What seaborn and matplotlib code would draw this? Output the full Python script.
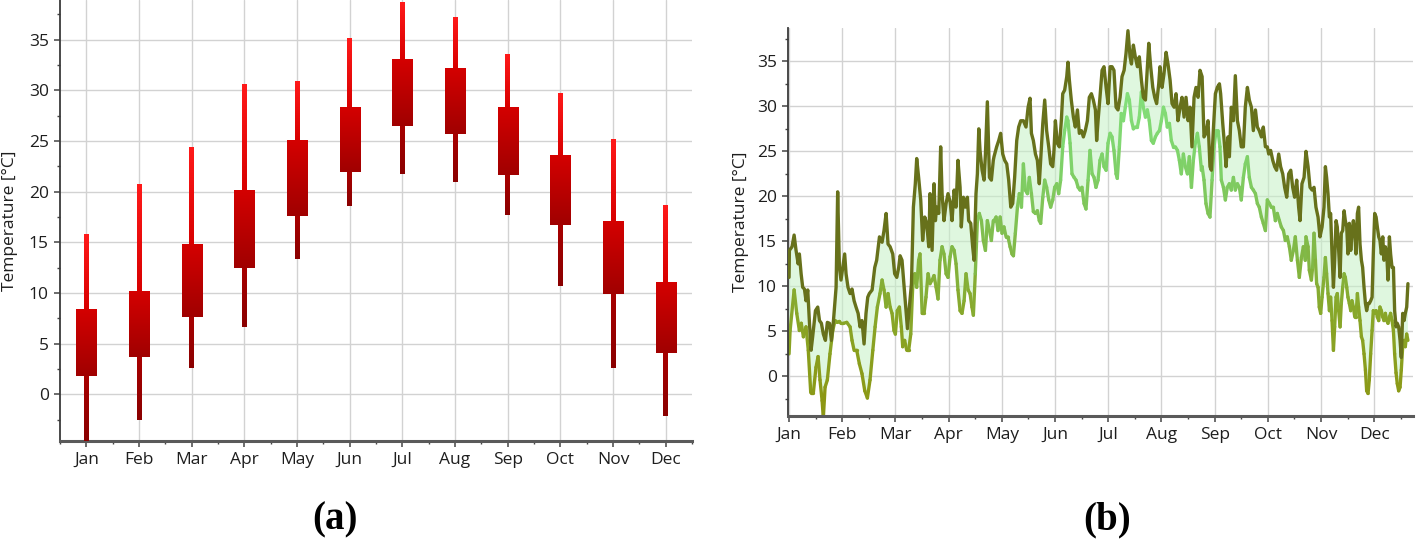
import numpy as np
import pandas as pd
import matplotlib
matplotlib.use("Agg")
import matplotlib.pyplot as plt
import seaborn as sns
from matplotlib.collections import LineCollection
from matplotlib.colors import LinearSegmentedColormap, Normalize
from matplotlib.ticker import MultipleLocator, FixedLocator

# ---------------- data ----------------
months = ["Jan", "Feb", "Mar", "Apr", "May", "Jun",
          "Jul", "Aug", "Sep", "Oct", "Nov", "Dec"]

# panel (a): monthly candles
month_min = [-4.6, -2.5, 2.6, 6.6, 13.4, 18.6, 21.7, 20.9, 17.7, 10.7, 2.6, -2.1]
box_low = [1.8, 3.7, 7.6, 12.5, 17.6, 21.9, 26.5, 25.7, 21.6, 16.7, 9.9, 4.1]
box_high = [8.4, 10.2, 14.8, 20.1, 25.0, 28.3, 33.1, 32.2, 28.3, 23.6, 17.1, 11.1]
month_max = [15.7, 20.7, 24.3, 30.6, 30.9, 35.1, 38.7, 37.2, 33.5, 29.7, 25.1, 18.6]

# panel (b): daily maximum temperature (day of year, degC)
max_day = [0, 0.2, 1.7, 2.9, 4.0, 5.2, 5.9, 6.9, 7.8, 8.8,
           9.7, 10.7, 11.6, 12.6, 13.5, 15.1, 16.4, 17.4, 18.5, 19.6,
           20.8, 21.9, 23.1, 24.2, 25.4, 26.9, 27.8, 28.8, 29.7, 30.7,
           31.8, 32.6, 33.7, 34.9, 36.0, 37.2, 38.3, 39.5, 40.6, 41.7,
           42.9, 44.0, 45.0, 45.9, 47.5, 49.0, 50.1, 51.7, 53.2, 54.3,
           55.5, 56.6,
           57.8, 59.3, 60.4, 61.6, 62.7, 63.5, 64.6, 65.8, 66.9, 67.7,
           68.8, 70.0, 71.1, 72.2, 73.0, 74.1, 75.3, 76.4, 77.6, 78.7,
           79.9, 80.6, 81.8, 82.9, 83.7, 84.4, 85.6, 86.7, 87.5, 88.6,
           89.8, 90.9, 92.1, 93.2, 94.4, 95.5, 96.6, 97.8, 98.5, 99.7,
           100.8, 102.0, 102.7, 103.9, 105.0, 105.8, 106.9, 107.7, 108.5, 109.2,
           110.4, 111.5, 112.3, 113.4, 114.6, 115.7, 116.8,
           117.2, 118.7, 119.9, 121.0, 122.2, 123.3, 124.5, 125.6, 126.8, 127.9,
           129.0, 130.2, 131.3, 132.5, 134.0, 135.5, 136.7, 137.8, 138.6, 139.7,
           140.9, 142.0, 143.1, 143.9, 145.1, 146.2, 147.3, 148.5, 149.6, 150.8,
           151.5, 152.3, 153.4, 154.6, 155.7, 156.5, 157.6, 158.8, 159.5, 160.3,
           161.4, 162.6, 163.7, 164.9, 166.0, 167.2, 168.3, 169.4, 170.6, 171.7,
           172.9, 174.0, 175.2, 175.9,
           176.7, 177.8, 179.0, 180.1, 181.3, 182.4, 183.6, 184.7, 185.8, 187.0,
           188.1, 189.3, 190.4, 191.6, 192.7, 193.8, 195.0, 195.8, 196.9, 198.0,
           199.2, 200.3, 201.5, 202.6, 203.8, 204.9, 205.7, 206.8, 208.0, 209.1,
           210.2, 211.4, 212.1, 213.3, 214.4, 215.6, 216.7, 217.9, 219.0, 220.2,
           221.3, 222.4, 223.6, 224.7, 225.9, 227.0, 228.2, 229.3, 230.4, 231.6,
           232.7, 233.9, 235.0,
           236.2, 237.3, 238.4, 239.6, 240.7, 241.5, 242.6, 243.8, 244.9, 246.1,
           246.8, 248.0, 249.1, 249.9, 251.0, 251.8, 252.9, 254.1, 255.2, 256.4,
           257.5, 258.6, 259.8, 260.9, 262.1, 263.2, 264.4, 265.5, 266.7, 267.8,
           268.9, 270.1, 271.2, 272.4, 273.5, 274.3, 275.4, 276.6, 277.7, 278.8,
           280.0, 281.1, 282.3, 283.4, 284.6, 285.7, 286.9, 288.0, 289.1, 290.3,
           291.4, 292.2, 293.3, 294.5, 295.6,
           296.8, 297.9, 299.1, 300.2, 301.3, 302.5, 303.6, 304.8, 305.9, 306.7,
           307.4, 308.2, 309.0, 309.7, 310.5, 311.3, 312.0, 312.8, 313.5, 314.3,
           315.1, 315.8, 316.6, 317.4, 318.1, 318.9, 319.6, 320.4, 321.2, 321.9,
           322.7, 323.5, 324.2, 325.0, 325.7, 326.5, 327.3, 328.0, 328.8, 329.6,
           330.3, 331.1, 331.8, 332.6, 333.4, 334.1, 334.9, 335.7, 336.4, 337.2,
           337.9, 338.7, 339.5, 340.2, 341.0, 341.8, 342.5, 343.3, 344.0, 344.8,
           345.6, 346.3, 347.1, 347.8, 348.6, 349.4, 350.1, 350.9, 351.7, 352.4,
           353.2, 353.9]
t_max = [11.0, 14.0, 14.4, 15.7, 14.0, 12.5, 13.6, 11.4, 9.9, 9.7,
         8.4, 9.6, 6.2, 2.9, 4.4, 7.3, 7.7, 6.2, 5.9, 4.7,
         4.0, 6.0, 5.9, 4.0, 6.2, 9.9, 20.5, 12.1, 10.7, 12.1,
         13.6, 11.4, 9.9, 9.2, 9.7, 8.4, 7.7, 7.0, 5.5, 6.2,
         3.6, 7.0, 8.8, 9.2, 9.6, 12.1, 12.9, 15.5, 14.9, 16.2,
         18.1, 14.7,
         14.4, 13.6, 11.4, 11.0, 12.1, 13.4, 12.9, 9.9, 7.3, 5.3,
         7.7, 10.3, 18.8, 21.4, 24.2, 22.1, 19.6, 15.1, 17.7, 17.0,
         14.4, 20.3, 14.0, 21.4, 17.3, 18.8, 18.1, 25.5, 20.3, 17.3,
         19.2, 20.3, 19.4, 17.3, 20.7, 18.8, 24.0, 21.0, 16.6, 19.9,
         18.8, 19.9, 17.3, 17.0, 14.4, 12.9, 20.3, 22.5, 27.5, 25.1,
         22.9, 21.8, 24.7, 30.5, 22.1, 21.8, 24.0,
         24.4, 25.5, 26.2, 27.0, 24.7, 24.0, 23.6, 21.8, 18.8, 19.2,
         22.1, 26.2, 27.7, 28.4, 28.4, 27.7, 29.9, 30.9, 27.0, 26.2,
         24.7, 24.0, 21.4, 24.0, 28.1, 30.7, 27.3, 25.5, 23.6, 23.3,
         25.1, 28.4, 25.9, 25.5, 28.4, 31.4, 31.8, 33.3, 34.9, 32.9,
         30.7, 28.8, 27.7, 29.6, 27.0, 27.3, 26.6, 27.3, 28.4, 31.0,
         31.4, 30.7, 29.6, 26.2,
         28.4, 31.0, 34.0, 34.4, 32.1, 30.3, 34.4, 34.4, 34.0, 29.9,
         29.6, 31.0, 33.3, 34.0, 35.9, 38.4, 35.5, 34.7, 36.8, 35.5,
         34.4, 35.5, 32.9, 31.0, 30.7, 34.4, 37.0, 34.4, 32.1, 31.0,
         30.3, 32.5, 34.4, 32.1, 33.6, 36.0, 34.7, 32.9, 30.3, 29.9,
         31.4, 28.4, 29.9, 31.0, 28.8, 31.0, 28.4, 29.9, 25.5, 31.0,
         32.1, 31.0, 34.0,
         33.3, 26.6, 27.0, 28.4, 23.3, 22.9, 27.3, 31.4, 32.1, 32.5,
         31.4, 28.1, 25.5, 23.3, 26.6, 24.4, 29.9, 28.4, 33.4, 28.4,
         27.3, 25.5, 25.5, 29.9, 32.1, 30.7, 29.9, 27.3, 29.6, 27.7,
         27.3, 26.6, 27.7, 25.5, 25.5, 24.7, 25.1, 24.0, 23.3, 22.9,
         24.7, 23.3, 22.5, 21.0, 19.9, 22.5, 22.9, 21.0, 19.9, 21.8,
         18.8, 17.3, 21.4, 22.1, 25.0,
         23.3, 21.0, 20.7, 21.0, 18.8, 17.7, 15.5, 16.6, 18.8, 23.3,
         22.1, 20.3, 17.7, 18.1, 13.6, 9.9, 12.9, 17.3, 16.6, 14.0,
         11.0, 15.9, 16.2, 18.4, 17.3, 16.6, 13.6, 17.0, 14.0, 15.9,
         17.3, 15.9, 13.6, 18.1, 18.8, 14.7, 12.9, 12.1, 9.9, 8.1,
         7.3, 8.1, 8.1, 8.4, 8.8, 13.6, 18.1, 17.7, 16.6, 15.5,
         15.1, 13.6, 15.5, 12.9, 14.4, 13.6, 10.7, 15.5, 13.6, 12.1,
         12.1, 7.3, 5.5, 5.9, 5.5, 4.0, 2.1, 7.0, 6.2, 7.0,
         7.7, 10.3]

# panel (b): daily minimum temperature
min_day = [0, 0.6, 2.9, 4.4, 5.9, 7.0, 8.2, 9.7, 11.0, 12.4,
           13.9, 15.4, 16.6, 17.7, 18.9, 19.6, 20.6, 21.9, 23.4, 25.0,
           26.3, 27.6, 28.8, 29.6, 31.1, 33.0, 34.9, 36.0, 37.2, 38.7,
           40.2, 41.7, 43.3, 44.8, 46.3, 47.9, 49.2, 50.5, 52.0, 53.2,
           54.3, 55.5, 56.6,
           57.8, 58.9, 60.0, 60.8, 61.9, 63.1, 64.2, 65.0, 66.1, 67.3,
           68.4, 69.6, 70.7, 71.9, 73.0, 74.1, 74.9, 76.1, 77.2, 78.3,
           79.5, 80.6, 81.8, 82.9, 84.1, 85.2, 86.3, 87.5, 88.6, 89.8,
           90.9, 92.1, 93.2, 94.4, 95.5, 96.6, 97.8, 98.9, 100.1, 101.2,
           102.4, 103.5, 104.6, 105.4, 106.5, 107.7, 108.8, 110.0, 111.1, 112.3,
           113.4, 114.6, 115.7, 116.8,
           117.2, 118.4, 119.5, 120.7, 121.8, 122.9, 124.1, 125.2, 126.4, 127.5,
           128.3, 129.4, 130.6, 131.7, 132.9, 134.0, 135.1, 136.3, 137.4, 138.6,
           139.7, 140.9, 142.0, 143.1, 143.9, 145.1, 146.2, 147.3, 148.5, 149.6,
           150.8, 151.9, 153.1, 154.2, 155.3, 156.5, 157.6, 158.8, 159.5, 160.7,
           161.8, 163.0, 164.1, 165.3, 166.4, 167.5, 168.7, 169.8, 171.0, 172.1,
           173.3, 174.4, 175.5,
           176.7, 177.8, 179.0, 180.1, 181.3, 182.4, 183.6, 184.7, 185.8, 187.0,
           187.7, 188.9, 190.0, 191.2, 192.3, 193.5, 194.6, 195.8, 196.9, 198.0,
           199.2, 200.3, 201.5, 202.6, 203.8, 204.9, 206.0, 207.2, 208.3, 209.5,
           210.6, 211.8, 212.9, 214.1, 215.2, 216.3, 217.5, 218.6, 219.8, 220.9,
           222.1, 223.2, 224.3, 225.5, 226.6, 227.8, 228.9, 230.1, 231.2, 232.3,
           233.5, 234.6, 235.8,
           236.2, 237.3, 238.4, 239.6, 240.7, 241.9, 243.0, 244.2, 245.3, 246.4,
           247.2, 248.4, 249.5, 250.6, 251.8, 252.9, 254.1, 255.2, 256.4, 257.5,
           258.6, 259.8, 260.9, 262.1, 263.2, 264.4, 265.5, 266.7, 267.8, 268.9,
           270.1, 271.2, 272.4, 273.5, 274.7, 275.8, 276.9, 278.1, 279.2, 280.4,
           281.5, 282.7, 283.8, 284.9, 286.1, 287.2, 288.4, 289.5, 290.7, 291.8,
           293.0, 294.1, 295.2,
           295.6, 296.8, 297.5, 298.7, 299.4, 300.2, 301.0, 301.7, 302.5, 303.2,
           304.0, 304.8, 305.9, 306.7, 307.4, 308.2, 309.0, 309.7, 310.5, 311.3,
           312.0, 312.8, 313.5, 314.3, 315.1, 315.8, 316.6, 317.4, 318.1, 318.9,
           319.6, 320.4, 321.2, 321.9, 322.7, 323.5, 324.2, 325.0, 325.7, 326.5,
           327.3, 328.0, 328.8, 329.6, 330.3, 331.1, 331.8, 332.6, 333.4, 334.1,
           334.9, 335.7, 336.4, 337.2, 337.9, 338.7, 339.5, 340.2, 341.0, 341.8,
           342.5, 343.3, 344.0, 344.8, 345.6, 346.3, 347.1, 347.8, 348.6, 349.4,
           350.1, 350.9, 351.7, 352.4, 353.2, 353.9]
t_min = [2.5, 5.1, 9.6, 7.0, 5.1, 5.9, 4.4, 5.5, 2.9, -1.8,
         -1.8, 1.0, 2.2, -0.4, -2.7, -4.6, -1.2, -0.4, 2.5, 5.1,
         6.2, 6.0, 6.1, 5.9, 5.9, 6.0, 5.5, 4.0, 2.9, 2.9,
         1.4, 0.3, -1.6, -2.4, -0.4, 2.9, 5.5, 7.7, 9.2, 10.7,
         9.6, 7.7, 9.2,
         7.7, 7.0, 5.1, 4.7, 7.3, 7.7, 5.5, 3.3, 4.0, 2.9,
         2.9, 4.7, 9.9, 11.4, 9.9, 12.9, 13.6, 7.0, 7.0, 8.8,
         11.4, 10.3, 10.7, 11.2, 9.9, 8.6, 12.9, 14.4, 13.6, 11.4,
         11.0, 13.3, 14.4, 14.0, 12.5, 9.6, 7.3, 7.0, 8.4, 11.4,
         9.6, 9.2, 7.7, 6.8, 11.4, 17.3, 18.1, 17.3, 15.1, 14.0,
         17.3, 16.2, 15.1, 17.3,
         17.3, 17.7, 16.2, 17.7, 15.9, 16.6, 15.5, 15.5, 14.4, 13.6,
         13.4, 15.9, 18.8, 20.3, 18.8, 23.6, 20.7, 20.3, 22.1, 20.3,
         18.3, 18.1, 18.4, 17.3, 17.0, 19.9, 21.8, 21.0, 19.6, 18.8,
         19.6, 21.0, 21.4, 20.3, 21.8, 25.5, 27.3, 28.8, 28.4, 25.9,
         22.5, 22.1, 21.8, 21.0, 20.7, 21.0, 19.2, 18.6, 21.8, 25.1,
         22.5, 22.1, 21.0,
         21.8, 24.0, 24.7, 23.3, 22.9, 25.9, 27.0, 26.6, 25.1, 22.5,
         22.0, 25.5, 29.2, 28.4, 29.9, 31.4, 30.7, 28.4, 27.5, 27.7,
         27.7, 28.8, 31.6, 29.9, 28.8, 29.6, 28.4, 26.2, 25.9, 26.6,
         27.0, 27.3, 28.4, 29.9, 29.2, 27.7, 28.1, 26.2, 25.5, 25.5,
         25.1, 24.0, 22.5, 24.7, 23.3, 22.5, 24.4, 21.0, 24.0, 25.9,
         27.0, 25.5, 22.9,
         23.3, 21.8, 19.2, 18.1, 17.7, 21.8, 25.5, 27.3, 27.3, 25.5,
         21.8, 21.0, 19.6, 21.0, 21.4, 20.7, 22.1, 20.7, 21.4, 21.0,
         19.6, 22.1, 23.6, 24.4, 22.1, 21.0, 20.7, 20.3, 19.2, 18.8,
         17.7, 17.0, 16.2, 19.6, 19.2, 18.8, 18.8, 17.3, 18.1, 17.3,
         16.6, 16.2, 15.1, 15.5, 14.4, 12.9, 14.0, 15.5, 12.9, 11.0,
         13.2, 14.4, 12.9,
         15.5, 14.4, 11.8, 10.7, 12.1, 15.9, 12.9, 10.3, 9.9, 7.7,
         7.0, 8.8, 11.0, 13.2, 11.4, 9.2, 7.3, 8.8, 6.2, 2.9,
         5.5, 8.8, 9.2, 7.3, 5.5, 8.1, 9.9, 11.4, 11.0, 9.9,
         8.8, 8.1, 7.3, 8.4, 7.7, 6.6, 6.6, 9.2, 7.7, 6.2,
         4.4, 4.0, 2.5, 0.7, -1.6, -1.9, -0.4, 2.5, 5.1, 7.3,
         7.0, 7.3, 6.6, 6.2, 7.7, 7.3, 6.6, 6.2, 7.0, 6.2,
         5.9, 6.6, 7.0, 6.2, 5.1, 2.5, 0.4, -0.8, -1.6, -1.2,
         0.7, 3.3, 4.0, 3.3, 4.7, 4.0]

# ---------------- style ----------------
sns.set_theme(style="white")
plt.rcParams["font.family"] = ["Open Sans", "DejaVu Sans"]
TICK_FS = 12.5
LABEL_FS = 12.5
GRID_C = "#d2d2d2"

W, H = 1416, 542
fig = plt.figure(figsize=(W / 100, H / 100), dpi=100)
axL = fig.add_axes([60 / W, 1 - 441 / H, 632 / W, 441 / H])
axR = fig.add_axes([788 / W, 1 - 416 / H, 625 / W, 388 / H])


def style_axes(ax):
    ax.set_axisbelow(True)
    ax.grid(True, which="major", color=GRID_C, lw=1.0)
    for s in ("top", "right"):
        ax.spines[s].set_visible(False)
    ax.spines["left"].set_color("#3a3a3a")
    ax.spines["left"].set_linewidth(1.3)
    ax.spines["bottom"].set_color("#5a5a5a")
    ax.spines["bottom"].set_linewidth(2.2)
    ax.tick_params(axis="both", which="both", bottom=True, left=True,
                   direction="out", color="#444444", labelcolor="#1e1e1e",
                   labelsize=TICK_FS)
    ax.tick_params(axis="both", which="major", length=4, width=1.1)
    ax.tick_params(axis="both", which="minor", length=2.5, width=1.0)
    ax.tick_params(axis="x", which="major", pad=4)
    ax.tick_params(axis="y", which="major", pad=4)
    ax.yaxis.set_major_locator(FixedLocator(np.arange(0, 36, 5)))
    ax.yaxis.set_minor_locator(MultipleLocator(2.5))
    ax.set_ylabel("Temperature [°C]", fontsize=LABEL_FS, color="#1e1e1e")


def vgrad(ax, x0, x1, y0, y1, c_bottom, c_top, z=3):
    cmap = LinearSegmentedColormap.from_list("g", [c_bottom, c_top])
    grad = np.linspace(0, 1, 128).reshape(-1, 1)
    ax.imshow(grad, extent=(x0, x1, y0, y1), origin="lower", cmap=cmap,
              aspect="auto", zorder=z, interpolation="bilinear")


# ---------------- panel (a) ----------------
style_axes(axL)
xs = np.arange(len(months))
wh = 0.085
bw = 0.38
for i in xs:
    vgrad(axL, i - wh / 2, i + wh / 2, box_high[i], month_max[i], "#d80000", "#ff1a1a", z=3)
    vgrad(axL, i - wh / 2, i + wh / 2, month_min[i], box_low[i], "#8a0000", "#a80000", z=3)
    vgrad(axL, i - bw / 2, i + bw / 2, box_low[i], box_high[i], "#a00000", "#d40000", z=4)
axL.set_xlim(-0.5, 11.5)
axL.set_ylim(-4.6, 38.9)
axL.set_xticks(xs)
axL.set_xticklabels(months)
axL.xaxis.set_minor_locator(FixedLocator(np.arange(-0.5, 12, 1.0)))
axL.yaxis.set_label_coords(-0.066, 0.5)

# ---------------- panel (b) ----------------
style_axes(axR)
max_day_a = np.asarray(max_day)
min_day_a = np.asarray(min_day)
t_max_a = np.asarray(t_max)
t_min_a = np.asarray(t_min)

axR.fill(np.r_[max_day_a, min_day_a[::-1]], np.r_[t_max_a, t_min_a[::-1]],
         color="#c6f2c6", alpha=0.55, lw=0, zorder=1)

df_max = pd.DataFrame({"day": max_day_a, "temp": t_max_a})
sns.lineplot(data=df_max, x="day", y="temp", ax=axR, color="#67711b",
             lw=2.4, estimator=None, sort=False, zorder=3)

# minimum line with temperature-dependent colour
min_cmap = LinearSegmentedColormap.from_list(
    "mincol", [(0.0, "#8c9612"), (0.3, "#88a628"), (0.55, "#80bd4e"),
               (0.8, "#7fd46c"), (1.0, "#84e07c")])
pts = np.column_stack([min_day_a, t_min_a]).reshape(-1, 1, 2)
segs = np.concatenate([pts[:-1], pts[1:]], axis=1)
lc = LineCollection(segs, cmap=min_cmap, norm=Normalize(-4, 32),
                    linewidths=2.4, capstyle="round", joinstyle="round", zorder=2.5)
lc.set_array((t_min_a[:-1] + t_min_a[1:]) / 2)
axR.add_collection(lc)

mlen = 365 / 12
axR.set_xlim(-0.6, 356.8)
axR.set_ylim(-4.4, 38.7)
axR.set_xticks(np.arange(12) * mlen)
axR.set_xticklabels(months)
axR.xaxis.set_minor_locator(FixedLocator((np.arange(12) + 0.5) * mlen))
axR.set_xlabel("")
axR.set_ylabel("Temperature [°C]", fontsize=LABEL_FS, color="#1e1e1e")
axR.yaxis.set_label_coords(-0.062, 0.5)

# ---------------- panel labels ----------------
for xc, lab in ((335, "(a)"), (1107, "(b)")):
    fig.text(xc / W, 1 - 520 / H, lab, fontfamily="Liberation Serif",
             fontweight="bold", fontsize=28, ha="center", va="center", color="black")

fig.savefig("out.png", dpi=100)
